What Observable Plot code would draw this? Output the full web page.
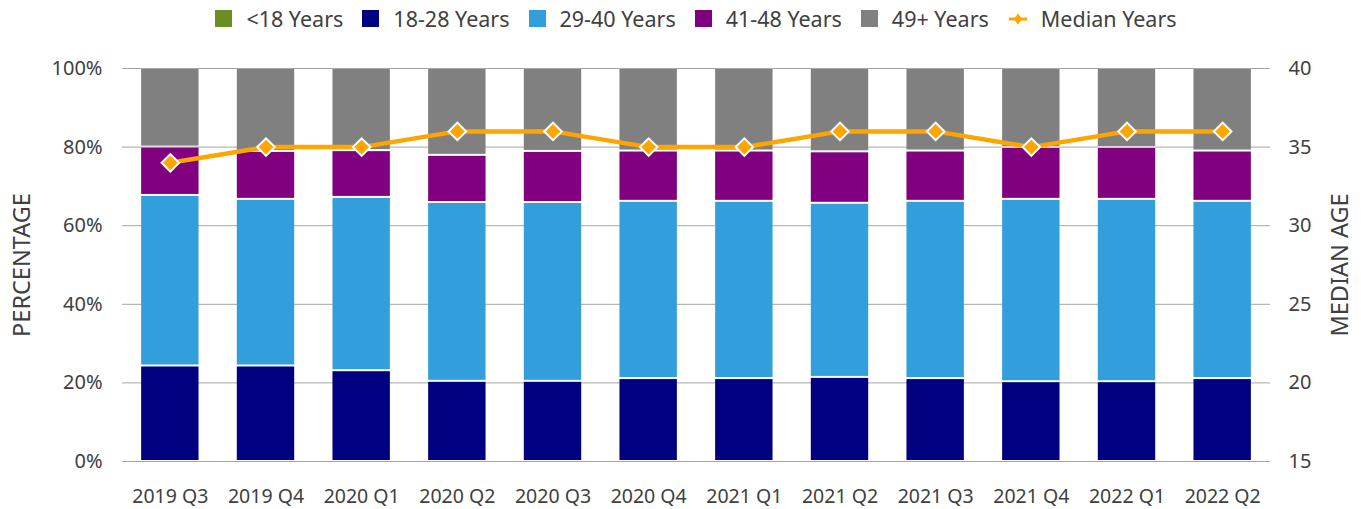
<!DOCTYPE html>
<html>
<head>
<meta charset="utf-8">
<script src="https://cdn.jsdelivr.net/npm/d3@7"></script>
<script src="https://cdn.jsdelivr.net/npm/@observablehq/plot@0.6"></script>
<style>
  html, body { margin: 0; padding: 0; background: #fff; }
  body { width: 1361px; height: 509px; overflow: hidden; font-family: "Noto Sans", "Open Sans", sans-serif; }
  #legend { height: 40px; box-sizing: border-box; padding-left: 122px; padding-right: 91px; padding-bottom: 3px; display: flex; justify-content: center; align-items: center; font-size: 21.5px; color: #404040; }
  .item { display: flex; align-items: center; margin: 0 9.5px; }
  .sw { width: 17px; height: 17px; margin-right: 14px; }
  svg { display: block; }
</style>
</head>
<body>
<div id="legend"></div>
<div id="chart"></div>
<script>
const quarters = ["2019 Q3","2019 Q4","2020 Q1","2020 Q2","2020 Q3","2020 Q4","2021 Q1","2021 Q2","2021 Q3","2021 Q4","2022 Q1","2022 Q2"];
const seriesNames = ["<18 Years","18-28 Years","29-40 Years","41-48 Years","49+ Years"];
const seriesColors = ["#6B8E23","#000080","#329FDC","#800080","#808080"];
const under18 = [0,0,0,0,0,0,0,0,0,0,0,0];
const age18to28 = [24.3,24.3,23.1,20.4,20.4,21.1,21.1,21.4,21.1,20.3,20.3,21.1];
const age29to40 = [43.4,42.4,44.1,45.5,45.5,45.1,45.1,44.3,45.1,46.4,46.4,45.1];
const age41to48 = [12.3,12.2,11.9,12.0,13.0,12.8,12.8,13.1,12.8,13.2,13.2,12.8];
const age49plus = [20.0,21.1,20.9,22.1,21.1,21.0,21.0,21.2,21.0,20.1,20.1,21.0];
const medianYears = [34,35,35,36,36,35,35,36,36,35,36,36];
const pctTicks = [0,20,40,60,80,100];
const ageTicks = [15,20,25,30,35,40];
const medianColor = "#FFA500";

const ageMin = 15, ageMax = 40;
const toPct = v => (v - ageMin) / (ageMax - ageMin) * 100;
const fromPct = p => Math.round(ageMin + p / 100 * (ageMax - ageMin));

const seriesValues = [under18, age18to28, age29to40, age41to48, age49plus];
const barData = [];
quarters.forEach((q, i) => {
  seriesNames.forEach((s, j) => barData.push({quarter: q, series: s, value: seriesValues[j][i]}));
});
const medianData = quarters.map((q, i) => ({quarter: q, pct: toPct(medianYears[i])}));

// Legend
const legend = document.getElementById("legend");
seriesNames.forEach((s, j) => {
  const it = document.createElement("div");
  it.className = "item";
  it.innerHTML = `<div class="sw" style="background:${seriesColors[j]}"></div><span>${s}</span>`;
  legend.appendChild(it);
});
{
  const it = document.createElement("div");
  it.className = "item";
  it.innerHTML = `<svg width="20" height="16" style="margin-right:13px"><line x1="1" x2="19" y1="8" y2="8" stroke="${medianColor}" stroke-width="3"/><path d="M10 2.5 L14 8 L10 13.5 L6 8 Z" fill="${medianColor}"/></svg><span>Median Years</span>`;
  legend.appendChild(it);
}

const textColor = "#404040";
const chart = Plot.plot({
  width: 1361,
  height: 469,
  marginTop: 28,
  marginBottom: 48,
  marginLeft: 122,
  marginRight: 91,
  style: {fontFamily: "'Noto Sans', 'Open Sans', sans-serif", color: textColor, background: "#fff"},
  x: {type: "band", domain: quarters, paddingInner: 0.4, paddingOuter: 0.2, round: false},
  y: {domain: [0, 100]},
  color: {domain: seriesNames, range: seriesColors},
  marks: [
    Plot.gridY(pctTicks, {stroke: "#a6a6a6", strokeOpacity: 1, strokeWidth: 1}),
    Plot.barY(barData, {x: "quarter", y: "value", fill: "series", order: seriesNames, insetTop: 1, insetBottom: 1}),
    Plot.line(medianData, {x: "quarter", y: "pct", stroke: medianColor, strokeWidth: 4.5}),
    Plot.dot(medianData, {x: "quarter", y: "pct", symbol: "square", rotate: 45, r: 7, fill: medianColor, stroke: "white", strokeWidth: 2}),
    Plot.axisX({tickSize: 0, tickPadding: 28, fontSize: 19.5, label: null}),
    Plot.axisY(pctTicks, {anchor: "left", tickSize: 0, tickPadding: 20, fontSize: 20, tickFormat: d => d + "%", label: null}),
    Plot.axisY(ageTicks.map(toPct), {anchor: "right", tickSize: 0, tickPadding: 18, fontSize: 20, tickFormat: d => String(fromPct(d)), label: null}),
    Plot.text(["PERCENTAGE"], {frameAnchor: "left", dx: -100, rotate: -90, fontSize: 23.5, textAnchor: "middle", fill: textColor}),
    Plot.text(["MEDIAN AGE"], {frameAnchor: "right", dx: 70, rotate: -90, fontSize: 23.5, textAnchor: "middle", fill: textColor})
  ]
});
document.getElementById("chart").appendChild(chart);
</script>
</body>
</html>
